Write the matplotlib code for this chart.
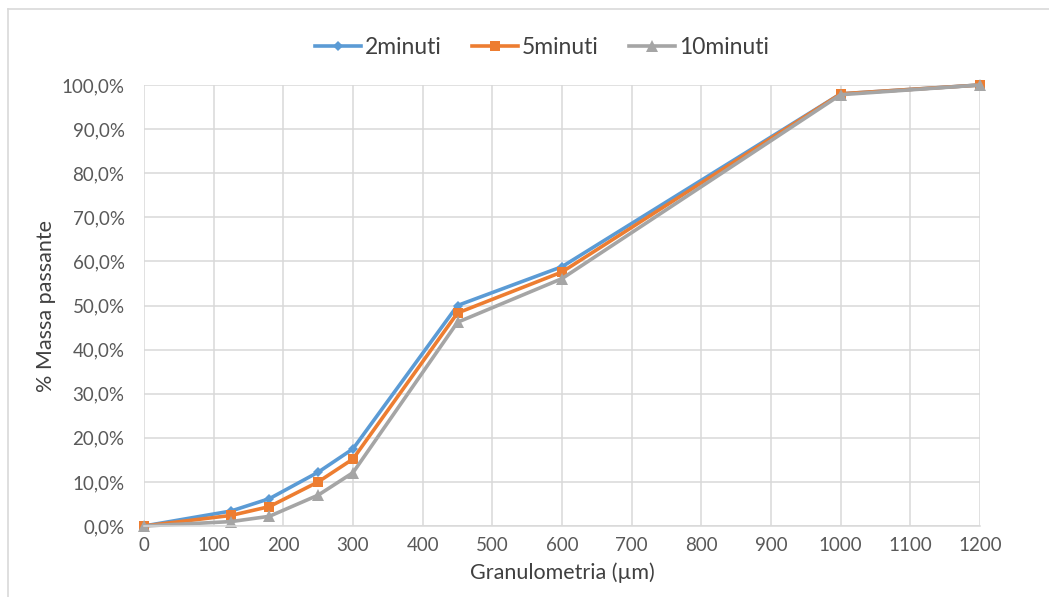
import matplotlib
matplotlib.use("Agg")
import matplotlib.pyplot as plt
from matplotlib.lines import Line2D
from matplotlib.ticker import FuncFormatter, MultipleLocator

plt.rcParams['font.family'] = ['Lato', 'DejaVu Sans']

# Sieve openings (µm) and cumulative passing fraction (%)
granulometria = [0, 125, 180, 250, 300, 450, 600, 1000, 1200]
passante_2min = [0.0, 3.4, 6.2, 12.2, 17.5, 50.0, 58.8, 98.0, 100.0]
passante_5min = [0.0, 2.4, 4.4, 10.0, 15.2, 48.3, 57.6, 98.0, 100.0]
passante_10min = [0.0, 1.0, 2.2, 7.0, 12.1, 46.2, 56.1, 97.8, 100.0]
serie_labels = ["2minuti", "5minuti", "10minuti"]

W, H = 1049, 597
fig = plt.figure(figsize=(W / 100, H / 100), dpi=100)
ax = fig.add_axes([144 / W, 1 - 526 / H, (980 - 144) / W, (526 - 85) / H])

# outer chart frame
fig.add_artist(Line2D([8 / W, 8 / W], [0, 1 - 9 / H], transform=fig.transFigure,
                      color="#d9d9d9", lw=1.2))
fig.add_artist(Line2D([8 / W, 1], [1 - 9 / H, 1 - 9 / H], transform=fig.transFigure,
                      color="#d9d9d9", lw=1.2))

colors = ["#5b9bd5", "#ed7d31", "#a5a5a5"]
markers = ["D", "s", "^"]
sizes = [5.5, 7, 8]
series = [passante_2min, passante_5min, passante_10min]
for vals, c, m, ms, lab in zip(series, colors, markers, sizes, serie_labels):
    ax.plot(granulometria, vals, color=c, marker=m, markersize=ms, lw=2.6,
            label=lab, markeredgewidth=0, solid_joinstyle="round", clip_on=False)

ax.set_xlim(0, 1200)
ax.set_ylim(0, 100)
ax.xaxis.set_major_locator(MultipleLocator(100))
ax.yaxis.set_major_locator(MultipleLocator(10))
ax.yaxis.set_major_formatter(FuncFormatter(lambda v, p: f"{v:.1f}%".replace(".", ",")))
ax.grid(True, color="#d9d9d9", lw=1.1)
ax.set_axisbelow(True)
for s in ["top", "right", "left"]:
    ax.spines[s].set_visible(False)
ax.spines["bottom"].set_color("#d9d9d9")
ax.spines["bottom"].set_linewidth(1.1)
ax.tick_params(length=0, labelsize=13.5, colors="#595959", pad=8)
ax.tick_params(axis="y", pad=14)

ax.set_xlabel("Granulometria (µm)", fontsize=15.5, color="#404040", labelpad=6)
ax.set_ylabel("% Massa passante", fontsize=15.5, color="#404040", labelpad=4)

leg = ax.legend(loc="lower center", bbox_to_anchor=(0.476, 1.015), ncol=3, frameon=False,
                fontsize=16.5, handlelength=2.0, columnspacing=1.3, handletextpad=0.2,
                labelcolor="#404040")

fig.savefig("out.png", dpi=100)
